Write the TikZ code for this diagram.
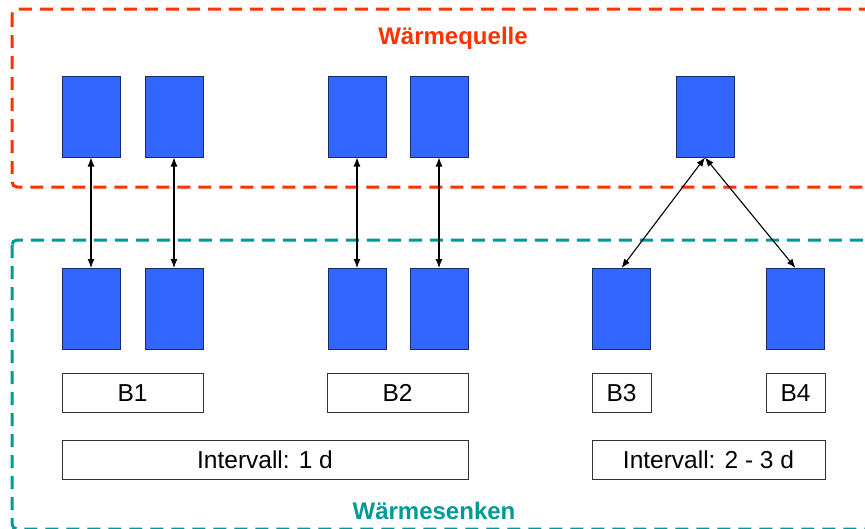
\documentclass[tikz,border=0pt]{standalone}
\usepackage{fontspec}
\setmainfont{Liberation Sans}
\usetikzlibrary{arrows.meta, positioning}
\definecolor{cred}{HTML}{FF3300}
\definecolor{cteal}{HTML}{009999}
\definecolor{cblue}{HTML}{3366FF}
\definecolor{cnavy}{HTML}{1A2A66}

\begin{document}
\begin{tikzpicture}[x=1pt, y=-1pt,
  block/.style={draw=cnavy, fill=cblue, line width=1pt, minimum width=58pt, minimum height=81pt, inner sep=0pt},
  tag/.style={draw=black!80, line width=0.8pt, minimum height=39pt, inner sep=0pt, text height=17.5pt, text depth=0pt, font=\fontsize{24.5}{28}\selectfont},
  zone/.style={dash pattern=on 13pt off 8pt, line width=3pt, rounded corners=5pt},
  title/.style={font=\fontsize{24}{28}\selectfont\bfseries},
  link/.style={{Latex[length=9pt,width=7pt]}-{Latex[length=9pt,width=7pt]}, line width=1.1pt}
]
  \clip (0,0) rectangle (865,528);
  \fill[white] (0,0) rectangle (865,528);

  % zones
  \draw[zone, cred] (12,9) rectangle (900,187);
  \draw[zone, cteal] (12,240) rectangle (900,529);
  \node[title, text=cred] (quelle) at (453,38) {Wärmequelle};
  \node[title, text=cteal] (senken) at (434,511) {Wärmesenken};

  % sources
  \node[block] (q1) at (91,116.5) {};
  \node[block] (q2) at (174,116.5) {};
  \node[block] (q3) at (357,116.5) {};
  \node[block] (q4) at (439,116.5) {};
  \node[block] (q5) at (705,116.5) {};

  % sinks
  \node[block] (s1) at (91,309) {};
  \node[block] (s2) at (174,309) {};
  \node[block] (s3) at (357,309) {};
  \node[block] (s4) at (439,309) {};
  \node[block] (s5) at (621.5,309) {};
  \node[block] (s6) at (795.5,309) {};

  % links
  \foreach \i in {1,...,4}
    \draw[link] (q\i.south) -- (s\i.north);
  \draw[link] (q5.south) -- (s5.north);
  \draw[link] (q5.south) -- (s6.north);

  % labels
  \node[tag, minimum width=141pt] (b1) at (132.5,392.5) {B1};
  \node[tag, minimum width=141pt] (b2) at (397.5,392.5) {B2};
  \node[tag, minimum width=59pt] (b3) at (621.5,392.5) {B3};
  \node[tag, minimum width=59pt] (b4) at (795.5,392.5) {B4};
  \node[tag, minimum width=406pt] (int1) at (265,459.5) {Intervall: 1 d};
  \node[tag, minimum width=233pt] (int2) at (708.5,459.5) {Intervall: 2 - 3 d};
\end{tikzpicture}
\end{document}
